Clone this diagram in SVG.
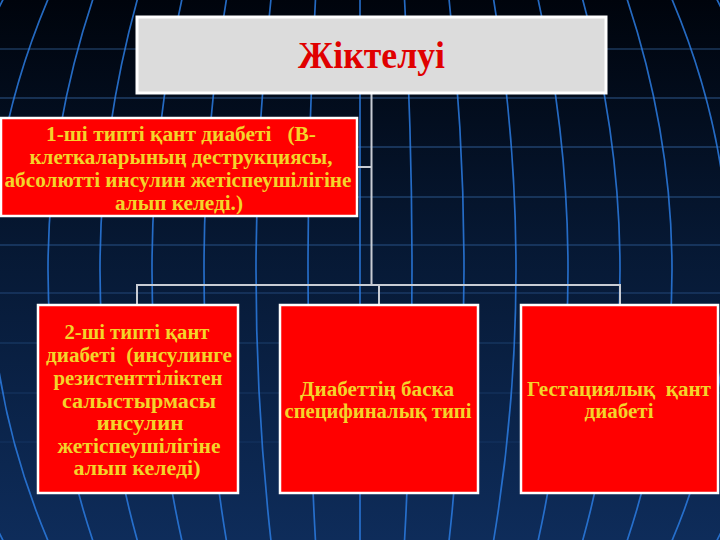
<svg xmlns="http://www.w3.org/2000/svg" width="720" height="540" viewBox="0 0 720 540">
<defs>
<linearGradient id="bg" x1="0" y1="0" x2="0" y2="1">
<stop offset="0" stop-color="#00040c"/>
<stop offset="0.45" stop-color="#061833"/>
<stop offset="1" stop-color="#0e2c5a"/>
</linearGradient>
<style>
.mer{fill:none;stroke:#2b7be0;stroke-width:1.7;opacity:0.85}
.par{fill:none;stroke:#4a8ad8;stroke-width:1.2}
.box{fill:#ff0000;stroke:#ffffff;stroke-width:2.5}
.title{fill:#dcdcdc;stroke:#ffffff;stroke-width:3}
.t{font-family:"Liberation Serif","Times New Roman",serif;font-weight:bold;font-size:20px;fill:#f4d42a;text-anchor:middle}
.h{font-family:"Liberation Serif","Times New Roman",serif;font-weight:bold;font-size:37px;fill:#e00000;text-anchor:middle}
.con{fill:none;stroke:#c8ccd4;stroke-width:2}
</style>
</defs>
<g id="background">
<rect x="0" y="0" width="720" height="540" fill="url(#bg)"/>
<g class="par">
<line x1="0" y1="49" x2="720" y2="49" opacity="0.55"/>
<line x1="0" y1="98" x2="720" y2="98" opacity="0.6"/>
<line x1="0" y1="147" x2="720" y2="147" opacity="0.6"/>
<line x1="0" y1="197" x2="720" y2="197" opacity="0.55"/>
<line x1="0" y1="245" x2="720" y2="245" opacity="0.5"/>
<line x1="0" y1="293" x2="720" y2="293" opacity="0.4"/>
<line x1="0" y1="343" x2="720" y2="343" opacity="0.3"/>
<line x1="0" y1="393" x2="720" y2="393" opacity="0.2"/>
<line x1="0" y1="442" x2="720" y2="442" opacity="0.15"/>
</g>
<g class="mer">
<path d="M360,-10 Q360,270 360,550"/>
<path d="M404,-10 Q420,270 404,550"/>
<path d="M316,-10 Q300,270 316,550"/>
<path d="M448,-10 Q480,270 448,550"/>
<path d="M272,-10 Q240,270 272,550"/>
<path d="M492,-10 Q540,270 492,550"/>
<path d="M228,-10 Q180,270 228,550"/>
<path d="M536,-10 Q600,270 536,550"/>
<path d="M184,-10 Q120,270 184,550"/>
<path d="M580,-10 Q660,270 580,550"/>
<path d="M140,-10 Q60,270 140,550"/>
<path d="M624,-10 Q720,270 624,550"/>
<path d="M96,-10 Q0,270 96,550"/>
<path d="M668,-10 Q790,270 668,550"/>
<path d="M52,-10 Q-70,270 52,550"/>
<path d="M712,-10 Q860,270 712,550"/>
<path d="M8,-10 Q-140,270 8,550"/>
</g>
</g>
<g id="connectors">
<polyline class="con" points="371.5,93 371.5,285"/>
<polyline class="con" points="357,167 371.5,167"/>
<polyline class="con" points="137,305 137,285 620,285 620,305"/>
<polyline class="con" points="379,285 379,305"/>
</g>
<g id="node-title">
<rect class="title" x="137" y="17" width="469" height="76"/>
<text class="h" x="371.5" y="68" textLength="147" lengthAdjust="spacingAndGlyphs">Жіктелуі</text>
</g>
<g id="node-type1">
<rect class="box" x="1" y="118" width="356" height="98"/>
<text class="t" x="181" y="141" textLength="270" lengthAdjust="spacingAndGlyphs" xml:space="preserve">1-ші типті қант диабеті   (В-</text>
<text class="t" x="181" y="164" textLength="303" lengthAdjust="spacingAndGlyphs">клеткаларының деструкциясы,</text>
<text class="t" x="178" y="187" textLength="347" lengthAdjust="spacingAndGlyphs">абсолютті инсулин жетіспеушілігіне</text>
<text class="t" x="179" y="210" textLength="128" lengthAdjust="spacingAndGlyphs">алып келеді.)</text>
</g>
<g id="node-type2">
<rect class="box" x="38" y="305" width="200" height="188"/>
<text class="t" x="137" y="339" textLength="145" lengthAdjust="spacingAndGlyphs">2-ші типті қант</text>
<text class="t" x="139" y="362" textLength="186" lengthAdjust="spacingAndGlyphs" xml:space="preserve">диабеті  (инсулинге</text>
<text class="t" x="138" y="385" textLength="169" lengthAdjust="spacingAndGlyphs">резистенттіліктен</text>
<text class="t" x="139" y="408" textLength="154" lengthAdjust="spacingAndGlyphs">салыстырмасы</text>
<text class="t" x="140" y="430" textLength="87" lengthAdjust="spacingAndGlyphs">инсулин</text>
<text class="t" x="139" y="453" textLength="163" lengthAdjust="spacingAndGlyphs">жетіспеушілігіне</text>
<text class="t" x="137" y="475" textLength="127" lengthAdjust="spacingAndGlyphs">алып келеді)</text>
</g>
<g id="node-other">
<rect class="box" x="280" y="305" width="198" height="188"/>
<text class="t" x="377" y="396" textLength="154" lengthAdjust="spacingAndGlyphs">Диабеттің баска</text>
<text class="t" x="378" y="418" textLength="187" lengthAdjust="spacingAndGlyphs">специфиналық типі</text>
</g>
<g id="node-gestational">
<rect class="box" x="521" y="305" width="197" height="188"/>
<text class="t" x="619" y="396" textLength="184" lengthAdjust="spacingAndGlyphs" xml:space="preserve">Гестациялық  қант</text>
<text class="t" x="619" y="418" textLength="69" lengthAdjust="spacingAndGlyphs">диабеті</text>
</g>
</svg>
